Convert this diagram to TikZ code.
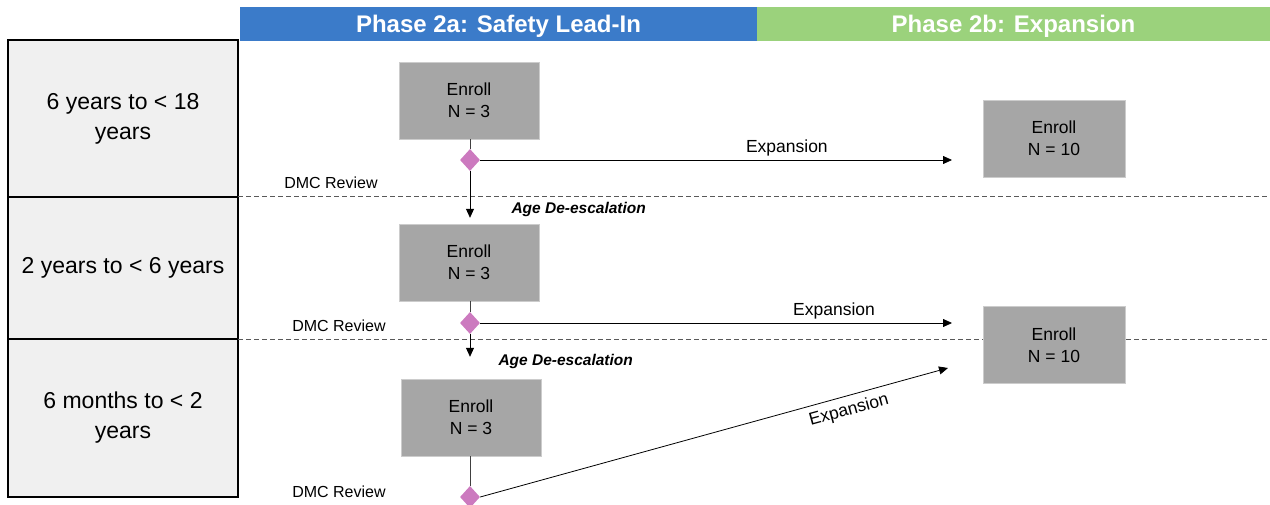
\documentclass[tikz,border=0pt]{standalone}
\usepackage{fontspec}
\setmainfont{Liberation Sans}
\usetikzlibrary{positioning,shapes.geometric,arrows.meta}

\definecolor{phaseblue}{HTML}{3B7BC9}
\definecolor{phasegreen}{HTML}{9BD27C}
\definecolor{enrollgray}{HTML}{A6A6A6}
\definecolor{agegray}{HTML}{F0F0F0}
\definecolor{dmcpink}{HTML}{CC7ABF}

\tikzset{
  agebox/.style={draw=black, line width=1.5pt, fill=agegray, minimum width=230pt,
    outer sep=0pt, inner sep=0pt, align=center, font=\fontsize{23}{30}\selectfont},
  phasebar/.style={minimum height=34pt, inner sep=0pt, outer sep=0pt, text=white,
    text depth=0pt, font=\fontsize{24}{26}\selectfont\bfseries},
  enroll/.style={draw=black!20, fill=enrollgray, minimum width=140pt, minimum height=77pt,
    align=center, font=\fontsize{17.5}{22}\selectfont},
  dmc/.style={diamond, fill=dmcpink, minimum width=20pt, minimum height=22pt, inner sep=0pt},
  flow/.style={-{Triangle[length=9pt,width=8pt]}, line width=0.8pt},
  link/.style={line width=0.8pt, draw=black!75},
  lane/.style={draw=black!65, line width=1pt, dash pattern=on 5pt off 3pt},
  note/.style={font=\fontsize{16}{18}\selectfont},
  expnote/.style={font=\fontsize{17.5}{18}\selectfont},
  deesc/.style={font=\fontsize{15.5}{18}\selectfont\bfseries\itshape, anchor=west}
}

\begin{document}
\begin{tikzpicture}[x=1pt, y=-1pt]
    \useasboundingbox (0,0) rectangle (1270,505);

    % Age groups
    \node [agebox, minimum height=157pt] (age1) at (123,118.5) {6 years to < 18\\years};
    \node [agebox, minimum height=142pt, below=0pt of age1] (age2) {2 years to < 6 years};
    \node [agebox, minimum height=158pt, below=0pt of age2] (age3) {6 months to < 2\\years};

    % Phase headers
    \node [phasebar, fill=phaseblue, minimum width=517pt] (phaseA) at (498.5,24) {Phase 2a: Safety Lead-In};
    \node [phasebar, fill=phasegreen, minimum width=513pt, right=0pt of phaseA] (phaseB) {Phase 2b: Expansion};

    % Cohort boundaries
    \coordinate (rim) at (1270,0);
    \draw [lane] (age1.south east) -- (age1.south east -| rim);
    \draw [lane] (age2.south east) -- (age2.south east -| rim);

    % Enrollment boxes
    \node [enroll] (enrA) at (469,100.5) {Enroll\\N = 3};
    \node [enroll] (enrB) at (469,262.5) {Enroll\\N = 3};
    \node [enroll] (enrC) at (471,417.5) {Enroll\\N = 3};
    \node [enroll, minimum width=142pt] (expA) at (1054,138.5) {Enroll\\N = 10};
    \node [enroll, minimum width=142pt] (expB) at (1054,345) {Enroll\\N = 10};

    % DMC review points
    \node [dmc] (dmcA) at (470,160) {};
    \node [dmc] (dmcB) at (470,323) {};
    \node [dmc] (dmcC) at (470,497) {};
    \node [note] (revA) at (331,183) {DMC Review};
    \node [note] (revB) at (339,326) {DMC Review};
    \node [note] (revC) at (339,492) {DMC Review};

    % Arrow ends
    \coordinate (tipA) at (952,160);
    \coordinate (tipB) at (952,323);
    \coordinate (tipC) at (948,368);

    % Arrows
    \draw [link] (enrA.south -| dmcA) -- (dmcA.north);
    \draw [link] (enrB.south -| dmcB) -- (dmcB.north);
    \draw [link] (enrC.south -| dmcC) -- (dmcC.north);
    \draw [flow, shorten >=6pt] (dmcA.south) -- (dmcA.south |- enrB.north);
    \draw [flow, shorten >=22pt] (dmcB.south) -- (dmcB.south |- enrC.north);
    \draw [flow] (dmcA.east) -- node [expnote, above, pos=0.65] (expLabA) {Expansion} (tipA);
    \draw [flow] (dmcB.east) -- node [expnote, above, pos=0.75] (expLabB) {Expansion} (tipB);
    \draw [flow] (dmcC.east) -- node [expnote, below=3pt, sloped, pos=0.78] (expLabC) {Expansion} (tipC);

    \node [deesc] (ageDownA) at (508,209) {Age De-escalation};
    \node [deesc] (ageDownB) at (495,361) {Age De-escalation};
\end{tikzpicture}
\end{document}
